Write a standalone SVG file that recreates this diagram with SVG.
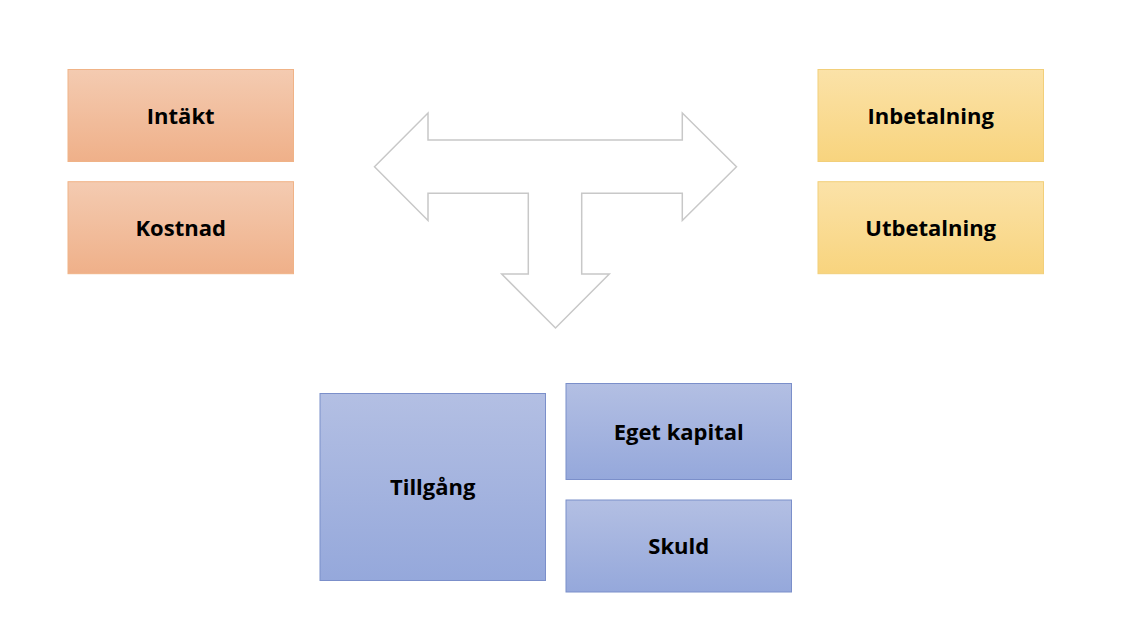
<svg xmlns="http://www.w3.org/2000/svg" width="1124" height="628" viewBox="0 0 1124 628">
<defs>
<linearGradient id="gO" x1="0" y1="0" x2="0" y2="1"><stop offset="0" stop-color="#f4cbb1"/><stop offset="1" stop-color="#efb089"/></linearGradient>
<linearGradient id="gY" x1="0" y1="0" x2="0" y2="1"><stop offset="0" stop-color="#fbe2a8"/><stop offset="1" stop-color="#f8d47e"/></linearGradient>
<linearGradient id="gB" x1="0" y1="0" x2="0" y2="1"><stop offset="0" stop-color="#b3bfe3"/><stop offset="1" stop-color="#95a8db"/></linearGradient>
</defs>
<style>
.o{fill:url(#gO);stroke:#f0b387;stroke-width:1}
.y{fill:url(#gY);stroke:#f2cf7a;stroke-width:1}
.b{fill:url(#gB);stroke:#7b8fca;stroke-width:1}
.t{font-family:"Open Sans","Liberation Sans",sans-serif;font-weight:bold;font-size:22px;fill:#000;text-anchor:middle}
.arr{fill:#fff;stroke:#c8c8c8;stroke-width:1.5;stroke-linejoin:miter}
</style>
<rect width="1124" height="628" fill="#fff"/>
<g id="connectors">
<path class="arr" d="M374.5,166.7 L428,113 L428,140 L682.3,140 L682.3,113 L736.5,166.7 L682.3,220.5 L682.3,193.3 L581.7,193.3 L581.7,274 L609.3,274 L555.5,328 L501.7,274 L528.3,274 L528.3,193.3 L428,193.3 L428,220.5 Z"/>
</g>
<g id="intakt"><rect class="o" x="68" y="69.5" width="225.5" height="92"/><text class="t" x="180.7" y="123.8">Intäkt</text></g>
<g id="kostnad"><rect class="o" x="68" y="181.7" width="225.5" height="92"/><text class="t" x="180.7" y="236">Kostnad</text></g>
<g id="inbetalning"><rect class="y" x="818" y="69.5" width="225.5" height="92"/><text class="t" x="930.7" y="123.8">Inbetalning</text></g>
<g id="utbetalning"><rect class="y" x="818" y="181.7" width="225.5" height="92"/><text class="t" x="930.7" y="236">Utbetalning</text></g>
<g id="tillgang"><rect class="b" x="320" y="393.5" width="225.5" height="187"/><text class="t" x="432.7" y="495.3">Tillgång</text></g>
<g id="eget-kapital"><rect class="b" x="566" y="383.5" width="225.5" height="96"/><text class="t" x="678.7" y="439.8">Eget kapital</text></g>
<g id="skuld"><rect class="b" x="566" y="500" width="225.5" height="92"/><text class="t" x="678.7" y="554.3">Skuld</text></g>
</svg>
